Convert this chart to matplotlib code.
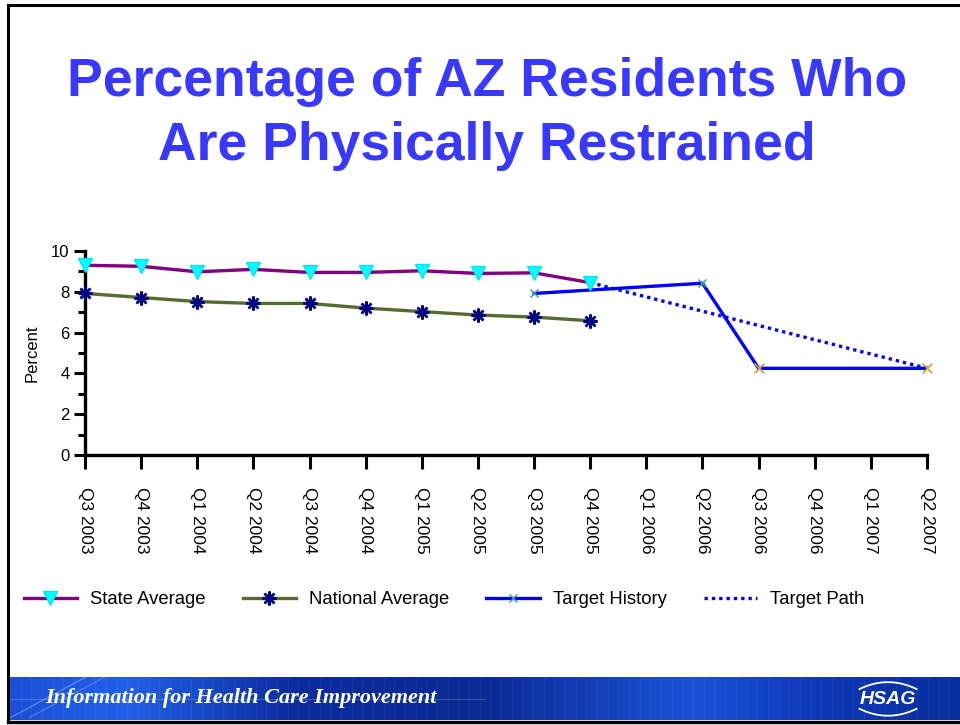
import numpy as np
import matplotlib
matplotlib.use("Agg")
import matplotlib.pyplot as plt
from matplotlib.lines import Line2D
from matplotlib.colors import LinearSegmentedColormap

plt.rcParams['font.family'] = ['Liberation Sans', 'DejaVu Sans']

# ---------------- data ----------------
quarters = ["Q3 2003", "Q4 2003", "Q1 2004", "Q2 2004", "Q3 2004", "Q4 2004",
            "Q1 2005", "Q2 2005", "Q3 2005", "Q4 2005", "Q1 2006", "Q2 2006",
            "Q3 2006", "Q4 2006", "Q1 2007", "Q2 2007"]
state_avg = [9.3, 9.25, 8.98, 9.1, 8.95, 8.95, 9.03, 8.9, 8.93, 8.45]
national_avg = [7.92, 7.72, 7.52, 7.43, 7.43, 7.2, 7.03, 6.86, 6.76, 6.58]
target_hist_q = ["Q3 2005", "Q2 2006", "Q3 2006", "Q2 2007"]
target_hist = [7.92, 8.42, 4.25, 4.25]
target_path_q = ["Q4 2005", "Q2 2007"]
target_path = [8.45, 4.25]
yticks = [0, 2, 4, 6, 8, 10]

title_lines = ["Percentage of AZ Residents Who", "Are Physically Restrained"]
banner_text = "Information for Health Care Improvement"

# ---------------- figure ----------------
W, H = 960, 725
fig = plt.figure(figsize=(W / 100, H / 100), dpi=100)
fig.patch.set_facecolor("white")

def fx(px):
    return px / W

def fy(py):
    return 1 - py / H

# slide border
fig.add_artist(Line2D([fx(8), 1.0], [fy(5), fy(5)], color="black", lw=2.2, transform=fig.transFigure))
fig.add_artist(Line2D([fx(8), fx(8)], [fy(5), fy(722)], color="black", lw=2.2, transform=fig.transFigure))

# title
title_color = "#3838ff"
fig.text(fx(487), fy(82), title_lines[0], ha="center", va="center",
         fontsize=38.5, fontweight="bold", color=title_color)
fig.text(fx(487), fy(146), title_lines[1], ha="center", va="center",
         fontsize=38.5, fontweight="bold", color=title_color)

# ---------------- chart ----------------
ax = fig.add_axes([fx(85), fy(455), fx(927) - fx(85), (455 - 251) / H])
ax.set_facecolor("white")
idx = {q: i for i, q in enumerate(quarters)}
xs = np.arange(len(quarters))

ax.plot(xs[:len(state_avg)], state_avg, color="#800080", lw=2.4,
        marker="v", markersize=10, markerfacecolor="#00ffff", markeredgecolor="#00e5f0",
        label="State Average", zorder=4, clip_on=False)
ax.plot(xs[:len(national_avg)], national_avg, color="#556b2f", lw=2.4,
        marker=(8, 2, 0), markersize=10, markeredgewidth=1.8, markeredgecolor="#000080",
        markerfacecolor="#000080", label="National Average", zorder=4, clip_on=False)
th_x = [idx[q] for q in target_hist_q]
ax.plot(th_x, target_hist, color="#0000ff", lw=2.4, label="Target History", zorder=3,
        marker="x", markersize=6, markeredgewidth=1.0, markeredgecolor="#2a9d9d", clip_on=False)
ax.plot(th_x[2:], target_hist[2:], linestyle="none", marker="x", markersize=7,
        markeredgewidth=1.0, color="#e0a040", zorder=5, clip_on=False)
tp_x = [idx[q] for q in target_path_q]
ax.plot(tp_x, target_path, color="#0000ff", lw=2.4, linestyle=(0, (1.0, 1.2)),
        label="Target Path", zorder=3, clip_on=False)

ax.set_xlim(0, len(quarters) - 1)
ax.set_ylim(0, 10)
ax.set_xticks(xs)
ax.set_xticklabels(quarters, rotation=-90, fontsize=12.5)
ax.set_yticks(yticks)
ax.set_yticks(np.arange(1, 10, 2), minor=True)
ax.tick_params(axis="y", which="major", length=8, width=2.2, labelsize=12, pad=3, direction="out")
ax.tick_params(axis="y", which="minor", length=5, width=2.2, direction="out")
ax.tick_params(axis="x", which="major", length=10, width=2.2, pad=13, direction="out")
for s in ["top", "right"]:
    ax.spines[s].set_visible(False)
for s in ["left", "bottom"]:
    ax.spines[s].set_linewidth(2.4)
ax.set_ylabel("Percent", fontsize=12, labelpad=8)

handles, labels = ax.get_legend_handles_labels()
fig.legend(handles, labels, loc="center left", bbox_to_anchor=(fx(7), fy(600)),
           ncol=4, frameon=False, fontsize=13.3, handlelength=2.9, columnspacing=2.0,
           handletextpad=0.7)

# ---------------- banner ----------------
bax = fig.add_axes([fx(10), fy(720), 1 - fx(10), (720 - 677) / H])
bax.set_axis_off()
stops = [(0.0, "#1a50d8"), (0.12, "#2160e8"), (0.3, "#0b2c9e"), (0.5, "#0a2a94"),
         (0.72, "#1c52d8"), (0.85, "#0d38b8"), (1.0, "#0a2f9c")]
cmap = LinearSegmentedColormap.from_list("banner", stops)
grad = np.tile(np.linspace(0, 1, 400), (20, 1))
bax.imshow(grad, aspect="auto", cmap=cmap, extent=[0, 1, 0, 1])
for xv in np.linspace(0.0, 1.0, 90):
    bax.plot([xv, xv], [0, 1], color="white", alpha=0.05, lw=0.8)
bax.plot([0, 0.5], [0.5, 0.5], color="white", alpha=0.2, lw=0.8)
bax.plot([0.0, 0.08], [0.05, 1.0], color="white", alpha=0.35, lw=0.8)
bax.plot([0.02, 0.1], [0.05, 1.0], color="white", alpha=0.25, lw=0.8)
bax.set_xlim(0, 1)
bax.set_ylim(0, 1)
bax.text(fx(45 - 10) / (1 - fx(10)), 0.5, banner_text, color="white", fontsize=16,
         family=["Liberation Serif", "DejaVu Serif"], style="italic", fontweight="bold",
         ha="left", va="center")
lx = (888 - 10) / (W - 10)
bax.text(lx, 0.48, "HSAG", color="white", fontsize=14, fontweight="bold", style="italic",
         ha="center", va="center")
# logo swooshes (decorative)
u = np.linspace(-1, 1, 40)
half = 0.030
bax.plot(lx + half * u, 0.88 - 0.16 * u ** 2, color="white", lw=1.3)
bax.plot(lx + half * u, 0.10 + 0.16 * u ** 2, color="white", lw=1.3)

fig.add_artist(Line2D([fx(8), 1.0], [fy(721.5), fy(721.5)], color="black", lw=2.4,
                      transform=fig.transFigure))

fig.savefig("out.png", dpi=100, facecolor="white")
